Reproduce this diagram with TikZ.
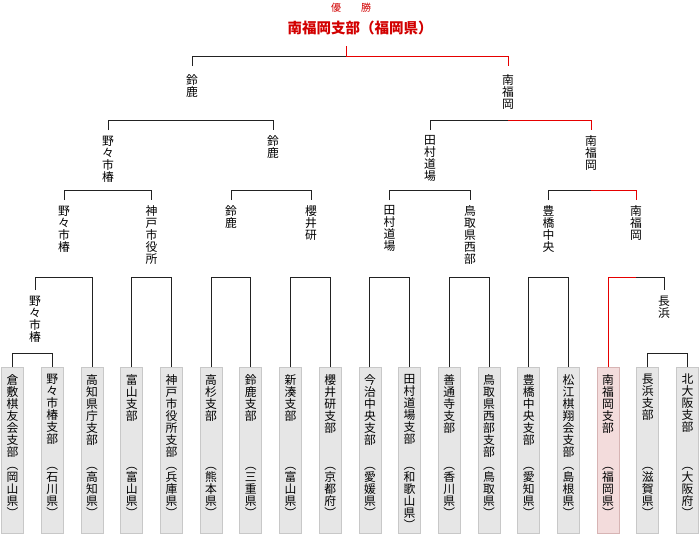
\documentclass[tikz,border=0pt]{standalone}
\usepackage{fontspec}
\newfontfamily\jp{Noto Sans CJK JP}
\definecolor{linek}{RGB}{34,34,34}
\definecolor{liner}{RGB}{230,0,0}
\definecolor{titlered}{RGB}{210,0,0}
\definecolor{boxfill}{RGB}{230,230,230}
\definecolor{boxdraw}{RGB}{200,200,200}
\definecolor{winfill}{RGB}{243,220,220}
\definecolor{windraw}{RGB}{215,180,180}
\begin{document}
\begin{tikzpicture}[x=1pt,y=-1pt,
  font=\jp\fontsize{11.8}{12}\selectfont,
  team/.style={draw=boxdraw, fill=boxfill, line width=0.8pt, minimum width=22pt, minimum height=166pt, anchor=north, inner sep=0pt},
  winteam/.style={team, draw=windraw, fill=winfill},
  txt/.style={anchor=north, align=center, inner sep=0pt, text=black},
  lab/.style={anchor=north, align=center, inner xsep=0pt, inner ysep=5.5pt, text=black},
  bk/.style={draw=linek, line width=1pt},
  rd/.style={draw=liner, line width=1pt}]
\useasboundingbox[fill=white] (0,0) rectangle (700,550);

% level heights
\coordinate (y1) at (0,353);
\coordinate (y2) at (0,277);
\coordinate (y3) at (0,190.7);
\coordinate (y4) at (0,120.7);
\coordinate (y5) at (0,56);

% teams
\foreach \i/\x/\st/\n/\p in {
 1/12.6/team/{倉\\敷\\棋\\友\\会\\支\\部}/{岡\\山\\県},
 2/52.3/team/{野\\々\\市\\椿\\支\\部}/{石\\川\\県},
 3/92.0/team/{高\\知\\県\\庁\\支\\部}/{高\\知\\県},
 4/131.7/team/{富\\山\\支\\部}/{富\\山\\県},
 5/171.4/team/{神\\戸\\市\\役\\所\\支\\部}/{兵\\庫\\県},
 6/211.1/team/{高\\杉\\支\\部}/{熊\\本\\県},
 7/250.8/team/{鈴\\鹿\\支\\部}/{三\\重\\県},
 8/290.5/team/{新\\湊\\支\\部}/{富\\山\\県},
 9/330.2/team/{櫻\\井\\研\\支\\部}/{京\\都\\府},
 10/369.9/team/{今\\治\\中\\央\\支\\部}/{愛\\媛\\県},
 11/409.6/team/{田\\村\\道\\場\\支\\部}/{和\\歌\\山\\県},
 12/449.3/team/{善\\通\\寺\\支\\部}/{香\\川\\県},
 13/489.0/team/{鳥\\取\\県\\西\\部\\支\\部}/{鳥\\取\\県},
 14/528.7/team/{豊\\橋\\中\\央\\支\\部}/{愛\\知\\県},
 15/568.4/team/{松\\江\\棋\\翔\\会\\支\\部}/{島\\根\\県},
 16/608.1/winteam/{南\\福\\岡\\支\\部}/{福\\岡\\県},
 17/647.8/team/{長\\浜\\支\\部}/{滋\\賀\\県},
 18/687.5/team/{北\\大\\阪\\支\\部}/{大\\阪\\府}}{
  \node[\st] (b\i) at (\x,367) {};
  \node[txt] (n\i) at (\x,374) {\n};
  \node[txt] (p\i) at (\x,467) {︵\\\p\\︶};
}

% winner labels
\node[lab] (r1a) at (35,290) {野\\々\\市\\椿};
\node[lab] (r1b) at (664,290) {長\\浜};

\node[lab] (r2a) at (64,200) {野\\々\\市\\椿};
\node[lab] (r2b) at (151.5,200) {神\\戸\\市\\役\\所};
\node[lab] (r2c) at (231,200) {鈴\\鹿};
\node[lab] (r2d) at (311,200) {櫻\\井\\研};
\node[lab] (r2e) at (389.5,200) {田\\村\\道\\場};
\node[lab] (r2f) at (470,200) {鳥\\取\\県\\西\\部};
\node[lab] (r2g) at (548.5,200) {豊\\橋\\中\\央};
\node[lab] (r2h) at (636,200) {南\\福\\岡};

\node[lab] (r3a) at (108,130) {野\\々\\市\\椿};
\node[lab] (r3b) at (273,130) {鈴\\鹿};
\node[lab] (r3c) at (430,130) {田\\村\\道\\場};
\node[lab] (r3d) at (591,130) {南\\福\\岡};

\node[lab, inner ysep=8pt] (r4a) at (192,66) {鈴\\鹿};
\node[lab, inner ysep=8pt] (r4b) at (508,66) {南\\福\\岡};

% champion
\node[text=titlered, font=\jp\fontsize{10}{10}\selectfont, inner sep=0pt] (yusho) at (351,8) {優\hspace{2em}勝};
\node[text=titlered, font=\jp\bfseries\fontsize{14.5}{15}\selectfont, inner sep=0pt] (champ) at (360,28) {南福岡支部（福岡県）};
\coordinate (top) at (346,46);

% round 1
\draw[bk] (b1.north) -- (b1.north |- y1) -- (b2.north |- y1) -- (b2.north);
\draw[bk] (b17.north) -- (b17.north |- y1) -- (b18.north |- y1) -- (b18.north);

% round 2
\draw[bk] (r1a.north) -- (r1a.north |- y2) -- (b3.north |- y2) -- (b3.north);
\draw[bk] (b4.north) -- (b4.north |- y2) -- (b5.north |- y2) -- (b5.north);
\draw[bk] (b6.north) -- (b6.north |- y2) -- (b7.north |- y2) -- (b7.north);
\draw[bk] (b8.north) -- (b8.north |- y2) -- (b9.north |- y2) -- (b9.north);
\draw[bk] (b10.north) -- (b10.north |- y2) -- (b11.north |- y2) -- (b11.north);
\draw[bk] (b12.north) -- (b12.north |- y2) -- (b13.north |- y2) -- (b13.north);
\draw[bk] (b14.north) -- (b14.north |- y2) -- (b15.north |- y2) -- (b15.north);
\draw[bk] (r2h.north |- y2) -- (r1b.north |- y2) -- (r1b.north);
\draw[rd] (b16.north) -- (b16.north |- y2) -- (r2h.north |- y2);

% round 3
\draw[bk] (r2a.north) -- (r2a.north |- y3) -- (r2b.north |- y3) -- (r2b.north);
\draw[bk] (r2c.north) -- (r2c.north |- y3) -- (r2d.north |- y3) -- (r2d.north);
\draw[bk] (r2e.north) -- (r2e.north |- y3) -- (r2f.north |- y3) -- (r2f.north);
\draw[bk] (r2g.north) -- (r2g.north |- y3) -- (r3d.north |- y3);
\draw[rd] (r3d.north |- y3) -- (r2h.north |- y3) -- (r2h.north);

% semifinals
\draw[bk] (r3a.north) -- (r3a.north |- y4) -- (r3b.north |- y4) -- (r3b.north);
\draw[bk] (r3c.north) -- (r3c.north |- y4) -- (r4b.north |- y4);
\draw[rd] (r4b.north |- y4) -- (r3d.north |- y4) -- (r3d.north);

% final
\draw[bk] (r4a.north) -- (r4a.north |- y5) -- (top |- y5);
\draw[rd] (top |- y5) -- (r4b.north |- y5) -- (r4b.north);
\draw[rd] (top) -- (top |- y5);
\end{tikzpicture}
\end{document}
